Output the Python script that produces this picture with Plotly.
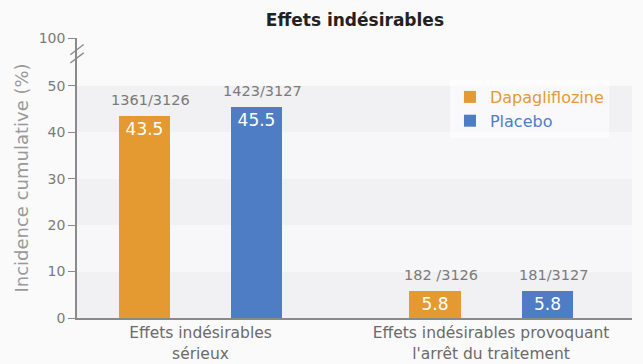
import plotly.graph_objects as go

categories = ["Effets indésirables<br>sérieux", "Effets indésirables provoquant<br>l'arrêt du traitement"]
series_names = ["Dapagliflozine", "Placebo"]
dapa_values = [43.5, 5.8]
placebo_values = [45.5, 5.8]
dapa_counts = ["1361/3126", "182 /3126"]
placebo_counts = ["1423/3127", "181/3127"]
ytick_vals = [0, 10, 20, 30, 40, 50, 60.3]
ytick_text = ["0", "10", "20", "30", "40", "50", "100"]

ORANGE = "#E49A31"
BLUE = "#4E7DC5"
GRAY = "#7a7a7a"
FONT = "DejaVu Sans"

xpos = list(range(len(categories)))
bar_w = 0.176
offsets = [-0.281, 0.105]

fig = go.Figure()
for name, vals, color, off in [(series_names[0], dapa_values, ORANGE, offsets[0]),
                               (series_names[1], placebo_values, BLUE, offsets[1])]:
    fig.add_trace(go.Bar(
        x=xpos, y=vals, width=bar_w, offset=off,
        name=f"<span style='color:{color}'>{name}</span>",
        marker=dict(color=color, line=dict(width=0)),
        text=[f"{v:.1f}" for v in vals],
        textposition="inside", insidetextanchor="end",
        textfont=dict(color="white", size=17, family=FONT),
        cliponaxis=False,
    ))

annotations = []
for vals, counts, off in [(dapa_values, dapa_counts, offsets[0]), (placebo_values, placebo_counts, offsets[1])]:
    for i, (v, c) in enumerate(zip(vals, counts)):
        annotations.append(dict(x=xpos[i] + off + bar_w / 2, y=v, text=c, showarrow=False,
                                yanchor="bottom", yshift=6, xshift=6,
                                font=dict(size=14.5, color=GRAY, family=FONT)))

shapes = []
band_cols = ["#f1f1f4", "#f7f7f9"]
for k in range(5):
    shapes.append(dict(type="rect", xref="paper", yref="y", x0=0, x1=1, y0=k * 10, y1=k * 10 + 10,
                       fillcolor=band_cols[k % 2], line=dict(width=0), layer="below"))
for yb in [56.0, 57.8]:
    shapes.append(dict(type="line", xref="paper", yref="y", x0=-0.012, x1=0.012, y0=yb - 1.1, y1=yb + 1.1,
                       line=dict(color="#888", width=1.3)))

fig.update_layout(
    width=643, height=364,
    margin=dict(l=77, r=11, t=38, b=46),
    paper_bgcolor="#fafafb",
    plot_bgcolor="rgba(0,0,0,0)",
    font=dict(family=FONT, color=GRAY),
    title=dict(text="<b>Effets indésirables</b>", x=0.552, xanchor="center", y=0.945, yanchor="middle",
               yref="container", font=dict(size=17, color="#222", family=FONT)),
    showlegend=True,
    legend=dict(x=0.672, y=0.85, xanchor="left", yanchor="top",
                bgcolor="rgba(255,255,255,0.6)", font=dict(size=16, family=FONT),
                traceorder="normal", tracegroupgap=0),
    xaxis=dict(range=[-0.425, 1.485], tickvals=xpos, ticktext=categories, automargin=False,
               showgrid=False, zeroline=False, showline=True, linecolor="#8a8a8a", linewidth=1.5,
               ticks="", ticklabelstandoff=0,
               tickfont=dict(size=15.5, color="#6a6a6a", family=FONT), fixedrange=True),
    yaxis=dict(range=[0, 60.3], tickvals=ytick_vals, ticktext=ytick_text, automargin=False,
               showgrid=False, zeroline=False, showline=True, linecolor="#8a8a8a", linewidth=1.5,
               ticks="outside", ticklen=7, tickcolor="#8a8a8a", tickwidth=1.3,
               tickfont=dict(size=14, color=GRAY, family=FONT),
               title=dict(text="Incidence cumulative (%)", font=dict(size=18, color="#999999", family=FONT),
                          standoff=5)),
    annotations=annotations,
    shapes=shapes,
    bargap=0,
)

fig.write_html("out.html")
